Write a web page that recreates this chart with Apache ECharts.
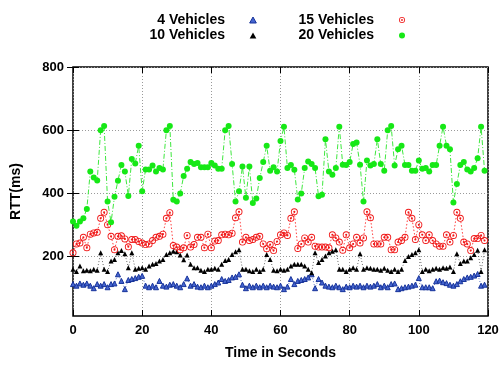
<!DOCTYPE html>
<html>
<head>
<meta charset="utf-8">
<script src="https://cdn.jsdelivr.net/npm/echarts@6/dist/echarts.min.js"></script>
<style>
  html, body { margin: 0; padding: 0; background: #fff; }
  #chart { width: 503px; height: 365px; }
</style>
</head>
<body>
<div id="chart"></div>
<script>
// RTT samples, one per second (t = 0 .. 119)
const rtt4 = [
  113, 108, 115, 111, 115, 108, 100, 113, 108, 113,
  103, 113, 115, 144, 123, 97, 126, 129, 132, 136,
  139, 108, 103, 108, 103, 123, 108, 105, 111, 113,
  108, 103, 113, 131, 108, 113, 105, 103, 108, 103,
  108, 113, 118, 129, 123, 126, 134, 136, 144, 111,
  100, 108, 103, 108, 103, 108, 103, 108, 105, 103,
  108, 97, 105, 129, 113, 123, 126, 129, 134, 144,
  100, 129, 118, 108, 105, 103, 108, 103, 97, 105,
  103, 108, 105, 108, 103, 108, 105, 108, 113, 103,
  108, 103, 113, 115, 97, 100, 103, 105, 108, 111,
  132, 103, 103, 103, 100, 122, 124, 119, 116, 111,
  108, 113, 122, 129, 134, 136, 140, 145, 108, 111
];
const rtt10 = [
  160, 153, 170, 155, 157, 155, 160, 157, 212, 160,
  153, 186, 191, 212, 219, 209, 165, 212, 160, 163,
  165, 160, 170, 176, 178, 186, 191, 207, 212, 217,
  215, 205, 190, 205, 176, 165, 165, 157, 153, 160,
  160, 163, 160, 176, 188, 191, 207, 215, 222, 160,
  160, 155, 153, 160, 153, 160, 207, 191, 157, 155,
  160, 157, 160, 170, 176, 176, 176, 170, 160, 149,
  212, 181, 191, 202, 212, 217, 222, 160, 160, 153,
  160, 165, 160, 209, 160, 165, 163, 160, 160, 157,
  163, 157, 153, 160, 153, 160, 188, 200, 207, 212,
  222, 153, 160, 155, 160, 163, 160, 165, 163, 167,
  153, 209, 178, 186, 186, 196, 207, 220, 153, 222
];
const rtt15 = [
  212, 240, 243, 261, 228, 271, 275, 277, 321, 340,
  301, 264, 222, 264, 266, 256, 231, 254, 254, 248,
  243, 238, 240, 251, 261, 264, 271, 321, 339, 235,
  230, 222, 228, 267, 230, 238, 261, 261, 228, 271,
  228, 249, 251, 269, 271, 269, 274, 323, 342, 246,
  261, 251, 254, 261, 264, 240, 225, 238, 219, 248,
  269, 275, 267, 321, 342, 226, 240, 259, 246, 261,
  233, 230, 230, 230, 228, 269, 259, 246, 220, 269,
  228, 240, 261, 243, 259, 342, 323, 240, 240, 240,
  261, 261, 222, 222, 246, 251, 261, 340, 321, 254,
  301, 269, 251, 269, 251, 240, 233, 233, 269, 246,
  267, 340, 321, 246, 240, 219, 257, 257, 267, 251
];
const rtt20 = [
  311, 298, 311, 321, 351, 469, 450, 441, 600, 613,
  374, 309, 389, 440, 490, 469, 392, 509, 495, 551,
  407, 476, 476, 488, 469, 480, 476, 600, 613, 380,
  374, 400, 455, 478, 499, 493, 496, 483, 483, 483,
  496, 488, 478, 478, 600, 613, 493, 374, 407, 485,
  386, 485, 370, 384, 449, 499, 551, 472, 483, 469,
  566, 611, 480, 490, 475, 381, 400, 480, 501, 493,
  480, 391, 396, 571, 469, 459, 480, 611, 491, 490,
  499, 556, 561, 491, 374, 504, 488, 493, 571, 493,
  472, 600, 613, 488, 540, 551, 490, 490, 472, 472,
  504, 478, 480, 469, 490, 490, 551, 611, 551, 540,
  371, 430, 490, 499, 476, 469, 480, 511, 611, 472
];

const seriesNames = ['4 Vehicles', '10 Vehicles', '15 Vehicles', '20 Vehicles'];
const xTicks = [0, 20, 40, 60, 80, 100, 120];
const yTicks = [200, 400, 600, 800];

const FONT = '"Liberation Sans", Arial, Helvetica, sans-serif';
// circle with a dot in the middle (gnuplot point type)
const DOT_CIRCLE = 'path://M10,0A10,10 0 1,1 10,20A10,10 0 1,1 10,0Z' +
  'M10,2.6A7.4,7.4 0 1,0 10,17.4A7.4,7.4 0 1,0 10,2.6Z' +
  'M10,7A3,3 0 1,1 10,13A3,3 0 1,1 10,7Z';
// path version so the legend keeps the aspect ratio
const TRIANGLE = 'path://M5,0L10,9L0,9Z';

const toPairs = arr => arr.map((v, i) => [i, v]);

const chart = echarts.init(document.getElementById('chart'), null, { renderer: 'canvas' });

const legendText = {
  fontFamily: FONT, fontWeight: 'bold', fontSize: 14, color: '#000',
  rich: { t: { width: 80, align: 'right', fontFamily: FONT, fontWeight: 'bold', fontSize: 14, lineHeight: 13, color: '#000' } }
};
const legendBase = {
  orient: 'vertical', top: 13, align: 'right', padding: 0,
  itemWidth: 46, itemHeight: 6, itemGap: 1.5, selectedMode: false,
  symbolKeepAspect: true,
  formatter: '{t|{name}}', textStyle: legendText
};

chart.setOption({
  animation: false,
  backgroundColor: '#fff',
  grid: {
    left: 73, right: 15, top: 67, bottom: 46,
    show: true, borderColor: '#000', borderWidth: 1.5, backgroundColor: 'transparent'
  },
  legend: [
    Object.assign({}, legendBase, {
      left: 145,
      itemStyle: { borderWidth: 1 },
      data: [
        { name: seriesNames[0], icon: TRIANGLE },
        { name: seriesNames[1], icon: TRIANGLE }
      ]
    }),
    Object.assign({}, legendBase, {
      left: 294,
      data: [
        { name: seriesNames[2], icon: DOT_CIRCLE },
        { name: seriesNames[3], icon: 'circle' }
      ]
    })
  ],
  xAxis: [
    {
      type: 'value', min: xTicks[0], max: xTicks[xTicks.length - 1], interval: 20,
      axisLine: { show: false },
      axisTick: { inside: true, length: 6, lineStyle: { color: '#000' } },
      axisLabel: { margin: 8, fontFamily: FONT, fontWeight: 'bold', fontSize: 13, color: '#000' },
      splitLine: { show: true, lineStyle: { color: '#9a9a9a', width: 1, type: [1, 2] } },
      name: 'Time in Seconds', nameLocation: 'middle', nameGap: 30,
      nameTextStyle: { fontFamily: FONT, fontWeight: 'bold', fontSize: 14, color: '#000' }
    },
    {
      type: 'value', position: 'top', min: 0, max: 120, interval: 20,
      axisLine: { show: false }, axisLabel: { show: false }, splitLine: { show: false },
      axisTick: { inside: true, length: 6, lineStyle: { color: '#000' } }
    }
  ],
  yAxis: [
    {
      type: 'value', min: 12, max: 800,
      axisLine: { show: false },
      axisTick: { inside: true, length: 6, customValues: yTicks, lineStyle: { color: '#000' } },
      axisLabel: { customValues: yTicks, margin: 9, fontFamily: FONT, fontWeight: 'bold', fontSize: 13, color: '#000' },
      splitLine: { show: true, lineStyle: { color: '#9a9a9a', width: 1, type: [1, 2] } },
      name: 'RTT(ms)', nameLocation: 'middle', nameGap: 50,
      nameTextStyle: { fontFamily: FONT, fontWeight: 'bold', fontSize: 14, color: '#000' }
    },
    {
      type: 'value', position: 'right', min: 12, max: 800,
      axisLine: { show: false }, axisLabel: { show: false }, splitLine: { show: false },
      axisTick: { inside: true, length: 6, customValues: yTicks, lineStyle: { color: '#000' } }
    }
  ],
  series: [
    {
      name: seriesNames[0], type: 'line', data: toPairs(rtt4),
      symbol: 'triangle', symbolSize: 5,
      itemStyle: { color: '#4565d0', borderColor: '#17339a', borderWidth: 1 },
      lineStyle: { color: '#2f50b8', width: 0.8, type: [1, 2] }
    },
    {
      name: seriesNames[1], type: 'line', data: toPairs(rtt10),
      symbol: 'triangle', symbolSize: 5,
      itemStyle: { color: '#000' },
      lineStyle: { color: '#444', width: 0.8, type: [1, 2] }
    },
    {
      name: seriesNames[2], type: 'line', data: toPairs(rtt15),
      symbol: DOT_CIRCLE, symbolSize: 7,
      itemStyle: { color: '#f01818' },
      lineStyle: { color: '#ff4040', width: 1, type: [1.5, 2] }
    },
    {
      name: seriesNames[3], type: 'line', data: toPairs(rtt20),
      symbol: 'circle', symbolSize: 6,
      itemStyle: { color: '#16e816' },
      lineStyle: { color: '#3fe83f', width: 1, type: [5, 2, 1, 2] }
    }
  ]
});
</script>
</body>
</html>
